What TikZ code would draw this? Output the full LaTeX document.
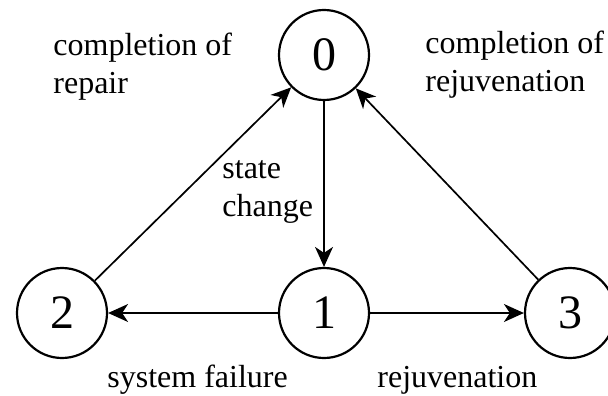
\documentclass[tikz,border=0pt]{standalone}
\usepackage{fontspec}
\setmainfont{Liberation Serif}
\usetikzlibrary{arrows.meta}

\tikzset{
  stnode/.style={circle, draw, line width=1.1pt, minimum size=45pt, inner sep=0pt,
    font=\fontsize{24}{24}\selectfont},
  trans/.style={-{Stealth[length=10pt,width=9pt,inset=3pt]}, line width=0.85pt},
  lbl/.style={align=left, inner sep=0pt, anchor=west, font=\fontsize{16}{19}\selectfont}
}

\begin{document}
\begin{tikzpicture}[x=0.5pt,y=-0.5pt]
  \useasboundingbox (0,0) rectangle (608,395);

  % === States ===
  \node[stnode] (s0) at (324,55)  {0};
  \node[stnode] (s1) at (324,313) {1};
  \node[stnode] (s2) at (62,313)  {2};
  \node[stnode] (s3) at (570,313) {3};

  % === Transitions ===
  \draw[trans] (s0) -- (s1);
  \draw[trans] (s1) -- (s2);
  \draw[trans] (s1) -- (s3);
  \draw[trans] (s2) -- (s0);
  \draw[trans] (s3) -- (s0);

  % === Labels ===
  \node[lbl] (lrep)   at (53,67)   {completion of\\repair};
  \node[lbl] (lrej)   at (425,65)  {completion of\\rejuvenation};
  \node[lbl] (lchg)   at (222,192) {state\\change};
  \node[lbl] (lfail)  at (107,380) {system failure};
  \node[lbl] (lrejuv) at (377,380) {rejuvenation};
\end{tikzpicture}
\end{document}
